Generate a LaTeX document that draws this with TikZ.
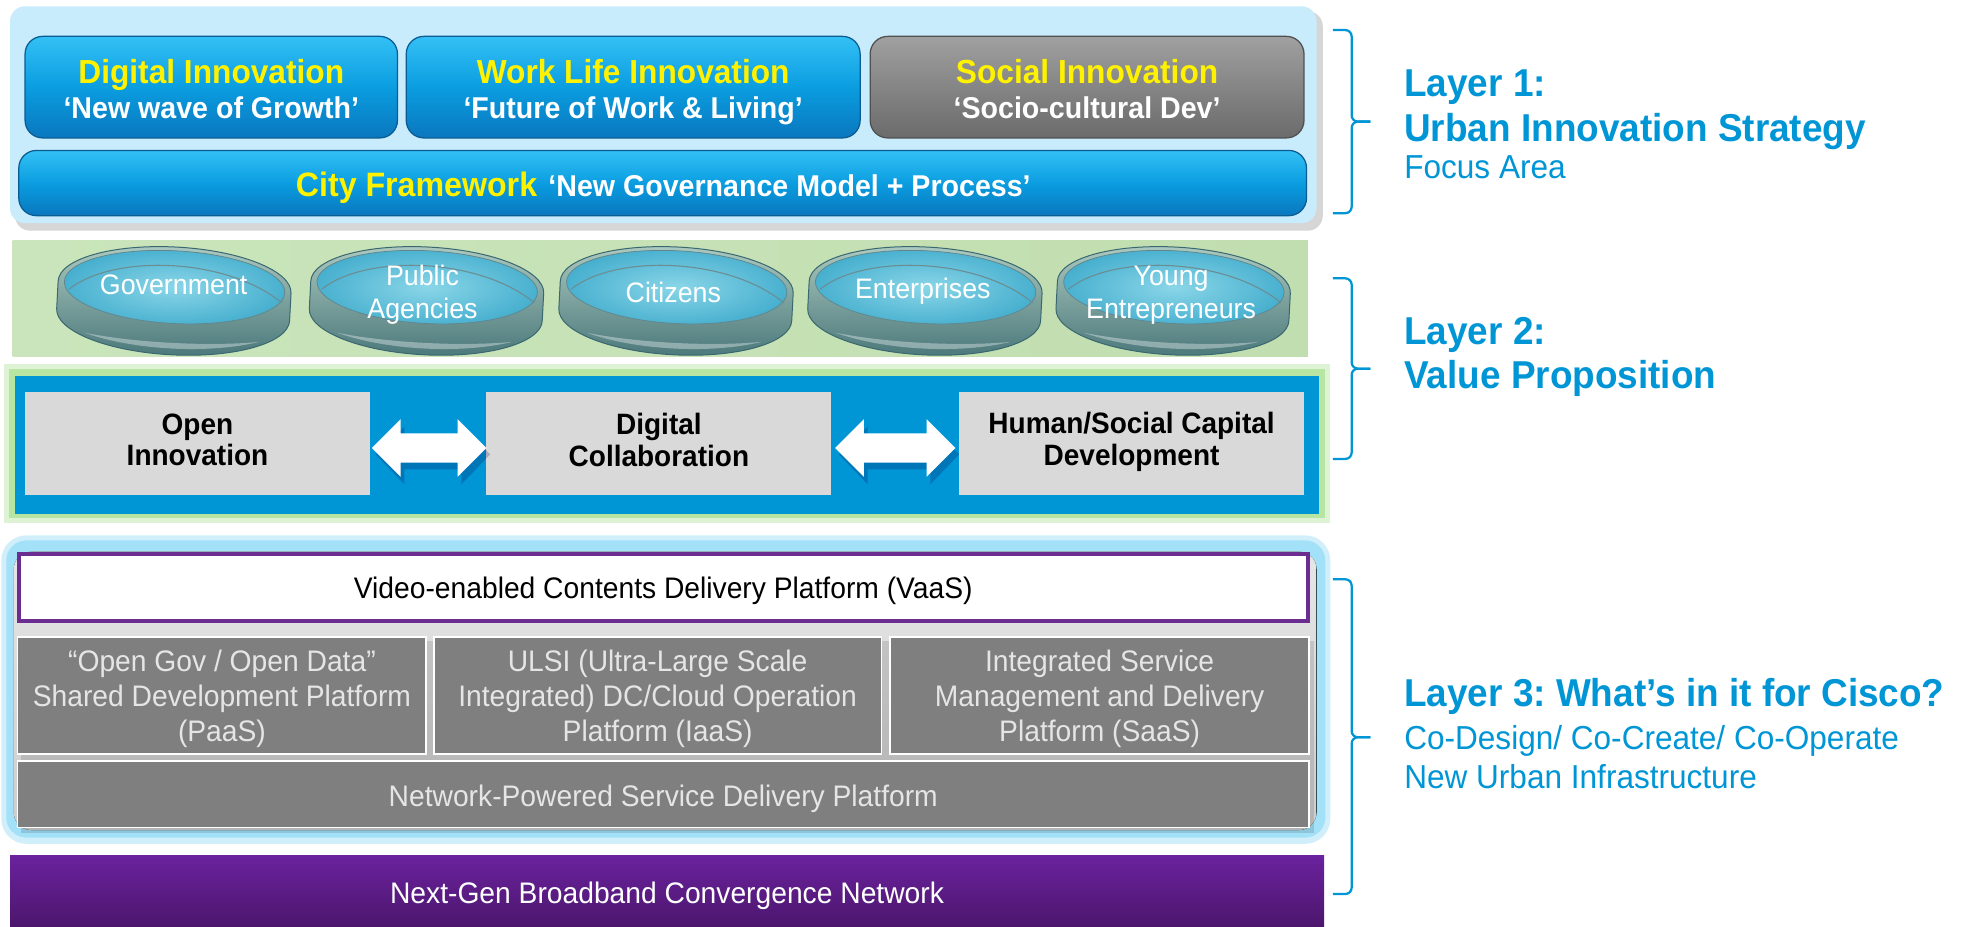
\documentclass[tikz,border=0pt]{standalone}
\usepackage{fontspec}
\setmainfont{Liberation Sans}[FakeStretch=0.95]
\usetikzlibrary{calc}
\frenchspacing
\definecolor{lonebg}{HTML}{C8ECFB}
\definecolor{bluetop}{HTML}{33C0F5}
\definecolor{bluemid}{HTML}{0A9DE0}
\definecolor{bluebot}{HTML}{0A77BE}
\definecolor{blueedge}{HTML}{0B5C93}
\definecolor{graytop}{HTML}{A0A0A0}
\definecolor{graymid}{HTML}{858585}
\definecolor{graybot}{HTML}{6B6B6B}
\definecolor{grayedge}{HTML}{505050}
\definecolor{ltgreenl}{HTML}{CAE5BB}
\definecolor{ltgreenr}{HTML}{C1DEB0}
\definecolor{glowgreen}{HTML}{B7E5A2}
\definecolor{frameblue}{HTML}{0096D6}
\definecolor{boxgray}{HTML}{D9D9D9}
\definecolor{glowblue}{HTML}{A3E1F9}
\definecolor{innergrayt}{HTML}{E6E6E6}
\definecolor{innergrayb}{HTML}{CDCDCD}
\definecolor{vpurple}{HTML}{6B2D8F}
\definecolor{midgray}{HTML}{7F7F7F}
\definecolor{ptop}{HTML}{6A229E}
\definecolor{pbot}{HTML}{4C166C}
\definecolor{cyantext}{HTML}{0096D6}
\definecolor{discface}{HTML}{48B0CF}
\definecolor{discfacelt}{HTML}{8AD6E8}
\definecolor{rimtop}{HTML}{AECBC0}
\definecolor{rimbot}{HTML}{4A777A}
\definecolor{rimedge}{HTML}{3A6870}
\newcommand\myfs[1]{\fontsize{#1}{#1}\selectfont}
\newcommand\mydisc[2]{%
 \begin{scope}[shift={(#1,#2)},rotate=-3]
  \path[top color=rimtop,bottom color=rimbot,draw=rimedge,line width=0.8]
    (-93,-14) -- (-93,8) arc[start angle=180,end angle=0,x radius=93,y radius=32]
    -- (93,-14) arc[start angle=0,end angle=-180,x radius=93,y radius=32] -- cycle;
  \fill[white,opacity=0.35] (-70,26) .. controls (-30,38) and (30,38) .. (70,26)
    .. controls (30,32) and (-30,32) .. (-70,26) -- cycle;
  \path[inner color=discfacelt,outer color=discface,draw=rimedge!80,line width=0.6]
    (0,-14) ellipse[x radius=88,y radius=29];
  \draw[rimedge!75,line width=0.9] (-84,-8) .. controls (-50,-38) and (40,-40) .. (86,-6);
 \end{scope}}
\begin{document}
\begin{tikzpicture}[x=1pt,y=-1pt,
  every node/.style={inner sep=0pt,outer sep=0pt},
  txt/.style={anchor=base,yshift={-0.358*#1}},
  bluebox/.style={rectangle,rounded corners=14,draw=blueedge,line width=1,top color=bluetop,bottom color=bluebot,middle color=bluemid},
  graybox/.style={rectangle,rounded corners=14,draw=grayedge,line width=1,top color=graytop,bottom color=graybot,middle color=graymid},
  ttl/.style={txt=26.6,font=\myfs{26.6}\bfseries,text=yellow},
  subt/.style={txt=24,font=\myfs{24}\bfseries,text=white},
  disctxt/.style={txt=22.5,font=\myfs{22.5},text=white},
  vpbox/.style={rectangle,fill=boxgray,minimum width=275,minimum height=82},
  vptxt/.style={txt=23.5,font=\myfs{23.5}\bfseries,text=black},
  platbox/.style={rectangle,fill=midgray,draw=white,line width=1.5},
  plattxt/.style={txt=23.7,font=\myfs{23.7},text=white!90!black},
  lbold/.style={txt=31,anchor=base west,font=\myfs{31}\bfseries,text=cyantext},
  lreg/.style={txt=26.5,anchor=base west,font=\myfs{26.5},text=cyantext},
  brk/.style={draw=cyantext,line width=1.8,rounded corners=5},
  arrowfill/.style={fill=white},
  arrowshadow/.style={fill=black!70!blue,opacity=0.22},
]
\useasboundingbox (0,0) rectangle (1568,739.3);
\fill[white] (0,0) rectangle (1568,739.3);

% ---------- Layer 1 ----------
\fill[black,opacity=0.16,rounded corners=12] (12,9) rectangle (1055,184);
\fill[lonebg,rounded corners=12] (8,5) rectangle (1050,178);
\node[bluebox,minimum width=297,minimum height=81] (di) at (168.5,69.5) {};
\node[ttl] (dit) at (168.5,57) {Digital Innovation};
\node[subt] (dis) at (168.5,86) {‘New wave of Growth’};
\node[bluebox,minimum width=362,minimum height=81] (wl) at (505,69.5) {};
\node[ttl] (wlt) at (505,57) {Work Life Innovation};
\node[subt] (wls) at (505,86) {‘Future of Work \& Living’};
\node[graybox,minimum width=346,minimum height=81] (si) at (867,69.5) {};
\node[ttl] (sit) at (867,57) {Social Innovation};
\node[subt] (sis) at (867,86) {‘Socio-cultural Dev’};
\node[bluebox,minimum width=1027,minimum height=52] (cf) at (528.5,146) {};
\node[txt=27,font=\myfs{27}\bfseries] (cft) at (529,147)
  {\textcolor{yellow}{City Framework}\hspace{9pt}\textcolor{white}{\myfs{24}‘New Governance Model + Process’}};

% ---------- Layer 2 : stakeholders ----------
\fill[left color=ltgreenl,right color=ltgreenr] (10,192) rectangle (1043,284);
\mydisc{138.5}{243}
\mydisc{340}{243}
\mydisc{539}{243}
\mydisc{737.5}{243}
\mydisc{935.5}{243}
\node[disctxt] (gov) at (138.5,227) {Government};
\node[disctxt] (pa1) at (337,220) {Public};
\node[disctxt] (pa2) at (337,246) {Agencies};
\node[disctxt] (cit) at (537,233) {Citizens};
\node[disctxt] (ent) at (736,230) {Enterprises};
\node[disctxt] (ye1) at (934,220) {Young};
\node[disctxt] (ye2) at (934,246) {Entrepreneurs};

% ---------- Layer 2 : value proposition ----------
\fill[glowgreen,opacity=0.45] (3,290) rectangle (1061,417);
\fill[glowgreen] (7,294) rectangle (1057,413);
\fill[frameblue] (12,300) rectangle (1052,410);
\node[vpbox] (oi) at (157.5,354) {};
\node[vpbox] (dc) at (525.5,354) {};
\node[vpbox] (hs) at (902.5,354) {};
\node[vptxt] (oi1) at (157.5,338) {Open};
\node[vptxt] (oi2) at (157.5,363) {Innovation};
\node[vptxt] (dc1) at (525.5,338) {Digital};
\node[vptxt] (dc2) at (525.5,364) {Collaboration};
\node[vptxt] (hs1) at (902.5,337) {Human/Social Capital};
\node[vptxt] (hs2) at (902.5,363) {Development};
\coordinate (a1l) at ($(oi.east)+(1.5,3.3)$);
\coordinate (a1r) at ($(dc.west)+(0,3.3)$);
\coordinate (a2l) at ($(dc.east)+(3,3.3)$);
\coordinate (a2r) at ($(hs.west)+(-3,3.3)$);
\foreach \l/\r in {a1l/a1r,a2l/a2r}{
  \fill[arrowshadow] ($(\l)+(3,5)$) -- ($(\l)+(26,-17)$) -- ($(\l)+(26,-6)$) -- ($(\r)+(-20,-6)$) -- ($(\r)+(-20,-17)$)
    -- ($(\r)+(3,5)$) -- ($(\r)+(-20,29)$) -- ($(\r)+(-20,17)$) -- ($(\l)+(26,17)$) -- ($(\l)+(26,29)$) -- cycle;
  \fill[arrowfill] (\l) -- ($(\l)+(23,-23)$) -- ($(\l)+(23,-11.7)$) -- ($(\r)+(-23,-11.7)$) -- ($(\r)+(-23,-23)$)
    -- (\r) -- ($(\r)+(-23,23)$) -- ($(\r)+(-23,11.7)$) -- ($(\l)+(23,11.7)$) -- ($(\l)+(23,23)$) -- cycle;
}

% ---------- Layer 3 ----------
\fill[glowblue,opacity=0.5,rounded corners=20] (1,427) rectangle (1061,673);
\fill[glowblue,rounded corners=16] (5,431) rectangle (1057,668);
\fill[top color=innergrayt,bottom color=innergrayb,rounded corners=14] (11,440) rectangle (1050,662);
\node[rectangle,fill=white,draw=vpurple,line width=3,minimum width=1028,minimum height=53] (vid) at (529,468.5) {};
\node[plattxt,text=black] (vidt) at (529,469) {Video-enabled Contents Delivery Platform (VaaS)};
\fill[black,opacity=0.12] (17,511) rectangle (1048,664);
\node[platbox,minimum width=326,minimum height=93] (paas) at (177,554.5) {};
\node[platbox,minimum width=357,minimum height=93] (iaas) at (524.5,554.5) {};
\node[platbox,minimum width=334,minimum height=93] (saas) at (877,554.5) {};
\node[plattxt] (p1) at (177,527) {“Open Gov / Open Data”};
\node[plattxt] (p2) at (177,555) {Shared Development Platform};
\node[plattxt] (p3) at (177,583) {(PaaS)};
\node[plattxt] (i1) at (524.5,527) {ULSI (Ultra-Large Scale};
\node[plattxt] (i2) at (524.5,555) {Integrated) DC/Cloud Operation};
\node[plattxt] (i3) at (524.5,583) {Platform (IaaS)};
\node[plattxt] (s1) at (877,527) {Integrated Service};
\node[plattxt] (s2) at (877,555) {Management and Delivery};
\node[plattxt] (s3) at (877,583) {Platform (SaaS)};
\node[platbox,minimum width=1030,minimum height=53] (npw) at (529,633.5) {};
\node[plattxt] (npwt) at (529,635) {Network-Powered Service Delivery Platform};
\node[rectangle,top color=ptop,bottom color=pbot,minimum width=1048,minimum height=58] (ngbc) at (532,711) {};
\node[plattxt,text=white] (ngbct) at (532,712) {Next-Gen Broadband Convergence Network};

% ---------- Brackets ----------
\draw[brk] (1063,24) -- (1078,24) -- (1078,97) -- (1093,97);
\draw[brk] (1063,170) -- (1078,170) -- (1078,97) -- (1093,97);
\draw[brk] (1063,222) -- (1078,222) -- (1078,294) -- (1093,294);
\draw[brk] (1063,366) -- (1078,366) -- (1078,294) -- (1093,294);
\draw[brk] (1063,462) -- (1078,462) -- (1078,588) -- (1093,588);
\draw[brk] (1063,713) -- (1078,713) -- (1078,588) -- (1093,588);

% ---------- Layer labels ----------
\node[lbold] (l1a) at (1120,66) {Layer 1:};
\node[lbold] (l1b) at (1120,102) {Urban Innovation Strategy};
\node[lreg] (l1c) at (1120,133) {Focus Area};
\node[lbold] (l2a) at (1120,264) {Layer 2:};
\node[lbold] (l2b) at (1120,299) {Value Proposition};
\node[lbold] (l3a) at (1120,552) {Layer 3: What’s in it for Cisco?};
\node[lreg] (l3b) at (1120,588) {Co-Design/ Co-Create/ Co-Operate};
\node[lreg] (l3c) at (1120,619) {New Urban Infrastructure};
\end{tikzpicture}
\end{document}
